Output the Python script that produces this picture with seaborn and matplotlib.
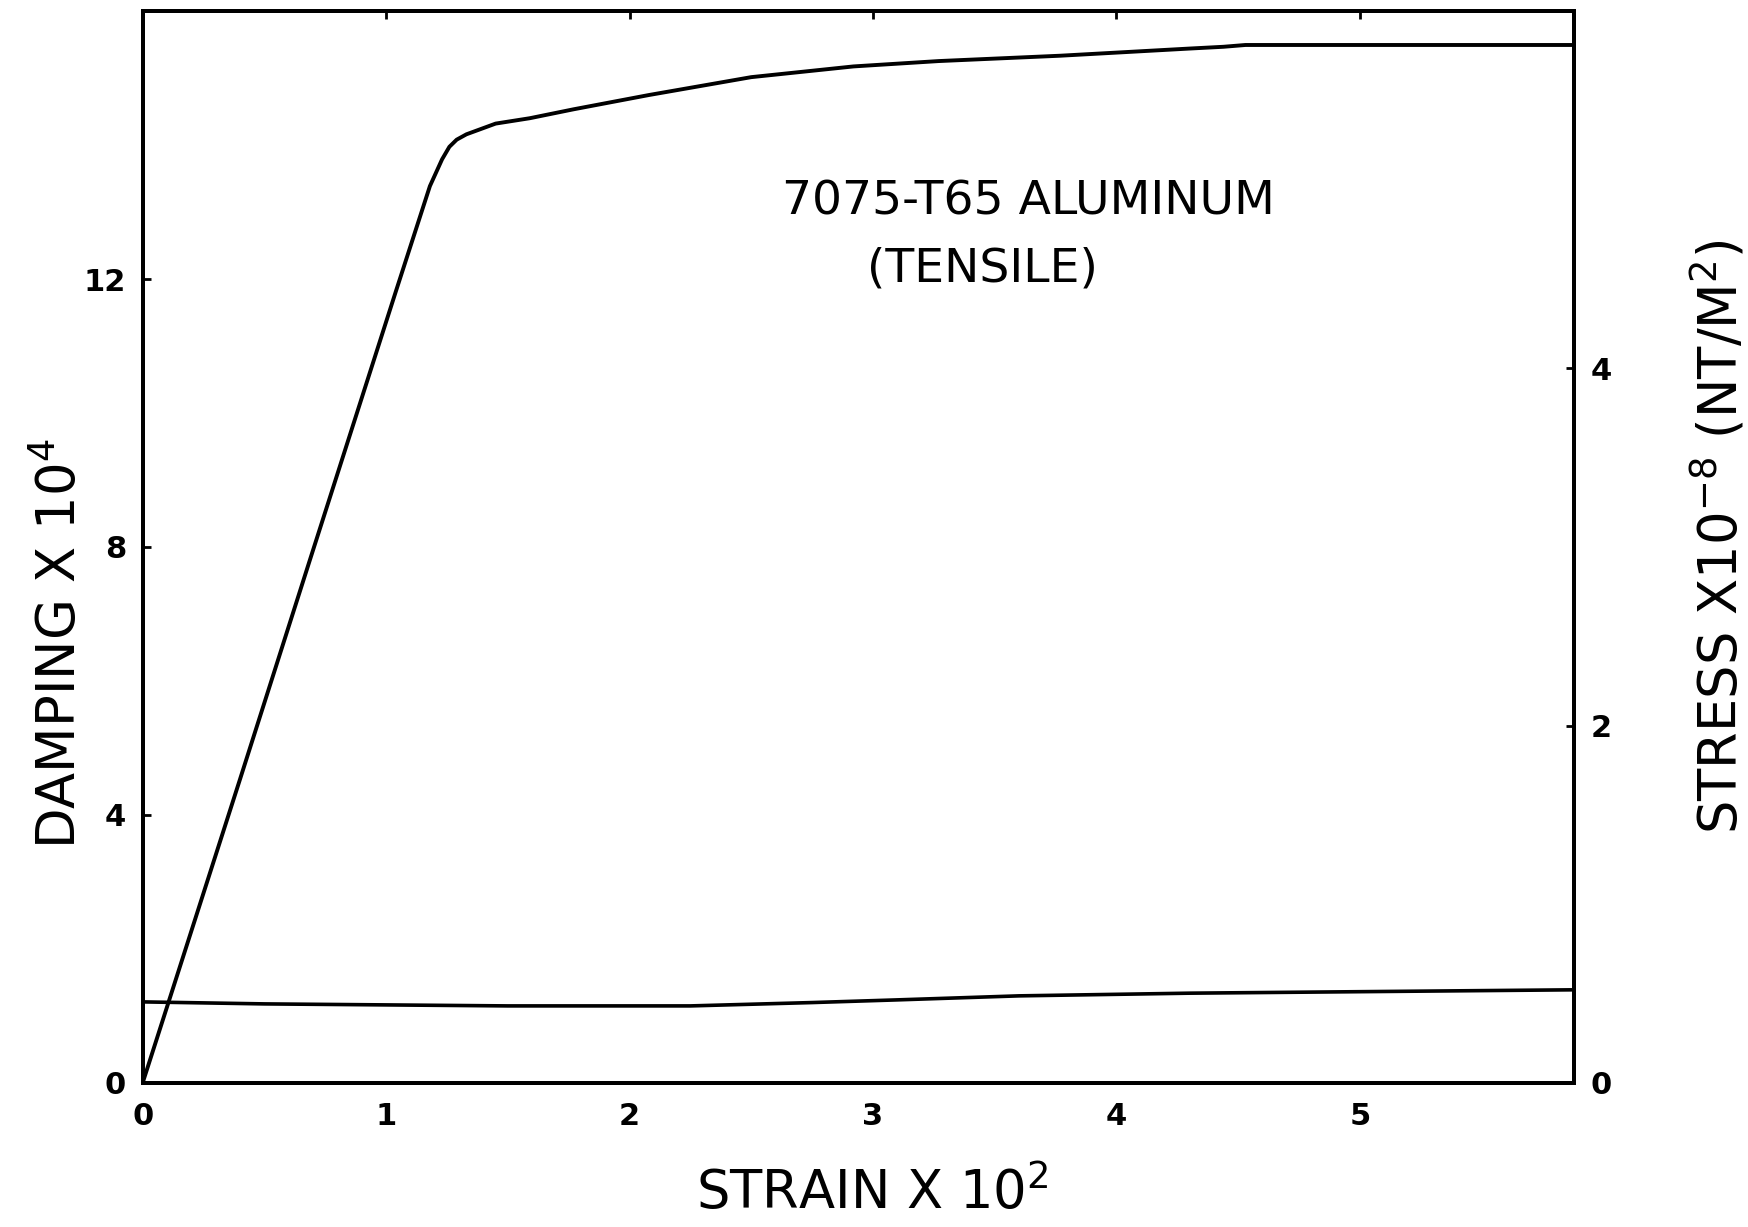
import numpy as np
import pandas as pd
import matplotlib
matplotlib.use("Agg")
import matplotlib.pyplot as plt
from matplotlib import font_manager
import seaborn as sns

# ---- data ----
stress_strain = [0.0, 0.40, 0.69, 1.04, 1.18, 1.23, 1.26, 1.29, 1.33, 1.45, 1.59, 1.77,
                 2.08, 2.50, 2.92, 3.27, 3.77, 4.30, 4.44, 4.53, 5.87]
stress_values = [0.0, 1.70, 2.94, 4.43, 5.02, 5.17, 5.24, 5.28, 5.31, 5.37, 5.40, 5.45,
                 5.53, 5.63, 5.69, 5.72, 5.75, 5.79, 5.80, 5.81, 5.81]
damping_strain = [0.0, 0.5, 1.5, 2.25, 2.75, 3.1, 3.6, 4.3, 5.87]
damping_values = [1.21, 1.18, 1.15, 1.15, 1.20, 1.24, 1.30, 1.34, 1.39]
x_ticks = [0, 1, 2, 3, 4, 5]
damping_ticks = [0, 4, 8, 12]
stress_ticks = [0, 2, 4]
title_lines = ["7075-T65 ALUMINUM", "(TENSILE)"]

sns.set_style("white")


def pick(name, default="DejaVu Sans"):
    try:
        font_manager.findfont(font_manager.FontProperties(family=name),
                              fallback_to_default=False)
        return name
    except Exception:
        return default


narrow = pick("Liberation Sans Narrow")
plt.rcParams['font.family'] = ['DejaVu Sans']
plt.rcParams['text.color'] = 'black'
plt.rcParams['axes.labelcolor'] = 'black'
plt.rcParams['mathtext.fontset'] = 'custom'
plt.rcParams['mathtext.rm'] = narrow

fig = plt.figure(figsize=(17.48, 12.27), dpi=100)
ax = fig.add_axes([0.0816, 0.1174, 0.9005 - 0.0816, 0.991 - 0.1174])
ax2 = ax.twinx()

df_d = pd.DataFrame({"strain": damping_strain, "damping": damping_values})
df_s = pd.DataFrame({"strain": stress_strain, "stress": stress_values})

sns.lineplot(data=df_d, x="strain", y="damping", ax=ax, color="black",
             linewidth=2.6, sort=False, estimator=None)
sns.lineplot(data=df_s, x="strain", y="stress", ax=ax2, color="black",
             linewidth=2.8, sort=False, estimator=None)

ax.set_xlim(0, 5.88)
ax.set_ylim(0, 16)
ax2.set_ylim(0, 6)

ax.set_xticks(x_ticks)
ax.set_yticks(damping_ticks)
ax2.set_yticks(stress_ticks)
ax.set_xticklabels([str(t) for t in x_ticks])
ax.set_yticklabels([str(t) for t in damping_ticks])
ax2.set_yticklabels([str(t) for t in stress_ticks])

for a in (ax, ax2):
    for s in a.spines.values():
        s.set_visible(True)
        s.set_linewidth(2.8)
        s.set_color("black")

ax.tick_params(axis="x", direction="in", length=6, width=2, top=True,
               labelsize=22, pad=14, colors="black")
ax.tick_params(axis="y", direction="in", length=6, width=2, left=True,
               right=False, labelsize=22, pad=12, colors="black")
ax2.tick_params(axis="y", direction="in", length=6, width=2, right=True,
                left=False, labelsize=22, pad=12, colors="black")
for lab in ax.get_xticklabels() + ax.get_yticklabels() + ax2.get_yticklabels():
    lab.set_fontweight("bold")

lab_font = dict(family=narrow, color="black",
                fontsize=46 if narrow != "DejaVu Sans" else 38)
ax.set_xlabel("STRAIN X 10$^2$", **lab_font)
ax.xaxis.set_label_coords(0.51, -0.078)
ax.set_ylabel("DAMPING X 10$^4$", **lab_font)
ax.yaxis.set_label_coords(-0.039, 0.41)
ax2.set_ylabel("STRESS X10$^{-8}$ (NT/M$^2$)", rotation=90, **lab_font)
ax2.yaxis.set_label_coords(1.081, 0.51)

ax.text(3.64, 13.15, title_lines[0], fontsize=34, ha="center", va="center",
        family="DejaVu Sans", color="black")
ax.text(3.45, 12.15, title_lines[1], fontsize=34, ha="center", va="center",
        family="DejaVu Sans", color="black")

fig.savefig("out.png", dpi=100, facecolor="white")
